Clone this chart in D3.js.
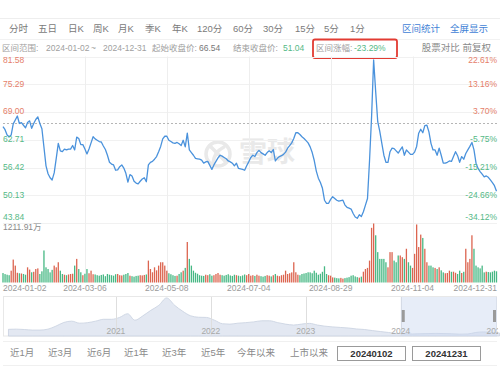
<!DOCTYPE html>
<html><head><meta charset="utf-8">
<script src="https://cdn.jsdelivr.net/npm/d3@7"></script>
<style>
html,body{margin:0;padding:0;background:#fff;}
svg{display:block;font-family:"Liberation Sans","Noto Sans CJK SC",sans-serif;}
</style></head><body>
<svg id="c" width="500" height="375"></svg>
<script>
// ---------------- DATA ----------------
const tabs = ["分时","五日","日K","周K","月K","季K","年K","120分","60分","30分","15分","5分","1分"];
const tabLinks = ["区间统计","全屏显示"];
const startDate = "2024-01-02", endDate = "2024-12-31";
const startClose = 66.54, endClose = 51.04, changePct = "-23.29%";
const rightTools = ["股票对比","前复权"];
const holidays = ["2024-01-01","2024-02-09","2024-02-12","2024-02-13","2024-02-14","2024-02-15","2024-02-16",
  "2024-04-04","2024-04-05","2024-05-01","2024-05-02","2024-05-03","2024-06-10","2024-09-16","2024-09-17",
  "2024-10-01","2024-10-02","2024-10-03","2024-10-04","2024-10-07"];
const closes = [
 65.7,65.0,63.8,63.4,63.8,66.3,67.2,68.1,66.4,66.6,
 66.0,65.4,66.6,67.0,65.3,66.4,67.3,67.9,66.4,65.2,
 61.0,56.8,55.0,54.1,53.6,55.2,58.5,61.9,60.2,60.0,
 60.6,60.4,60.6,60.6,61.4,60.4,63.3,63.0,61.6,61.6,
 60.6,59.5,60.6,62.0,63.4,62.9,62.6,62.3,62.2,61.3,
 60.5,59.2,57.6,57.2,57.0,55.8,55.9,56.6,57.0,56.3,
 55.1,53.1,54.8,54.5,53.3,52.9,52.7,53.3,53.8,54.1,
 53.2,57.0,57.6,57.8,58.3,58.9,60.0,61.2,62.9,63.5,
 63.5,62.6,62.3,62.0,61.9,62.1,61.8,61.4,62.6,61.1,
 64.2,60.4,59.8,59.2,58.5,58.4,58.3,58.1,57.4,57.7,
 57.8,56.9,56.0,57.0,57.8,58.6,59.2,59.0,58.7,58.4,
 57.9,57.7,57.4,56.8,57.4,56.2,56.1,56.0,55.8,56.8,
 57.7,58.7,59.2,58.9,59.8,60.3,59.8,59.5,59.2,59.8,
 60.2,59.8,60.5,57.9,58.5,58.9,59.1,59.4,59.9,60.8,
 61.4,62.0,63.0,64.3,64.3,63.9,63.4,63.0,62.5,62.0,
 61.1,59.8,58.0,55.6,54.0,53.0,51.7,49.0,48.3,48.3,
 49.2,49.8,49.4,49.0,48.8,48.9,49.0,47.9,47.4,47.2,
 47.0,46.0,45.2,44.9,45.7,45.3,46.4,47.9,49.4,58.0,
 68.0,80.8,73.6,66.8,64.6,61.9,59.2,57.6,57.6,60.0,
 60.8,60.7,60.2,59.7,60.4,61.1,59.2,60.4,59.9,59.4,
 59.4,59.9,61.2,64.2,65.1,64.3,65.9,66.0,64.5,61.9,
 60.4,60.4,59.2,60.8,59.2,57.4,57.4,57.6,57.9,57.8,
 58.9,60.0,59.1,57.6,58.9,58.3,59.6,60.4,61.2,62.1,
 60.4,57.4,56.2,55.5,54.9,54.3,54.5,54.2,53.6,53.0,
 52.3,51.04
];
const volumes = [ // 万股
 194,173,160,150,243,471,347,200,190,185,
 175,160,312,265,210,220,277,290,175,230,
 658,312,277,208,260,347,312,416,243,175,
 160,150,165,175,180,347,485,277,210,150,
 180,277,190,243,170,165,150,140,155,165,
 130,175,160,150,140,170,175,150,145,160,
 175,195,140,130,120,135,140,150,145,155,
 165,450,277,210,312,250,347,416,416,347,
 243,190,170,150,135,140,175,210,243,300,
 832,485,347,243,200,180,150,140,135,160,
 150,170,140,150,175,195,160,150,140,155,
 170,145,135,160,150,140,130,145,165,150,
 175,140,150,135,160,140,130,120,135,150,
 140,125,150,175,140,130,150,160,243,175,
 190,208,416,210,160,150,175,185,195,210,
 208,190,243,200,160,180,220,333,175,150,
 140,105,100,90,85,95,80,90,100,110,
 140,150,125,110,100,120,222,277,300,450,
 1123,1211.91,970,624,485,485,485,416,312,624,
 624,450,416,555,555,520,485,693,416,347,
 300,589,1192,728,984,915,693,416,347,347,
 312,300,277,312,250,208,190,195,243,220,
 222,200,175,243,195,220,693,416,485,970,
 693,347,312,290,347,208,222,215,208,222,
 243,230
];
const priceTicks = [81.58,75.29,69.00,62.71,56.42,50.13,43.84];
const pctTicks = ["22.61%","13.16%","3.70%","-5.75%","-15.21%","-24.66%","-34.12%"];
const volMax = 1211.91, volMaxLabel = "1211.91万";
const dateTicks = ["2024-01-02","2024-03-06","2024-05-08","2024-07-04","2024-08-29","2024-11-04","2024-12-31"];
const navMonths = ["2019-11","2019-12","2020-01","2020-02","2020-03","2020-04","2020-05","2020-06","2020-07","2020-08","2020-09","2020-10","2020-11","2020-12",
 "2021-01","2021-02","2021-03","2021-04","2021-05","2021-06","2021-07","2021-08","2021-09","2021-10","2021-11","2021-12",
 "2022-01","2022-02","2022-03","2022-04","2022-05","2022-06","2022-07","2022-08","2022-09","2022-10","2022-11","2022-12",
 "2023-01","2023-02","2023-03","2023-04","2023-05","2023-06","2023-07","2023-08","2023-09","2023-10","2023-11","2023-12",
 "2024-01","2024-02","2024-03","2024-04","2024-05","2024-06","2024-07","2024-08","2024-09","2024-10","2024-11","2024-12","2025-01"];
const navValues = [76,77,75,72,72,77,93,113,120,109,112,120,130,130,
 140,160,125,149,178,205,245,205,173,149,141,140,
 125,106,104,109,112,116,122,122,112,104,99,104,
 108,99,93,89,86,83,78,75,69,64,59,54,
 53,51,52,53,54,53,52,50,51,59,62,59,56];
const navYears = ["2021","2022","2023","2024","2025"];
const quickRanges = ["近1月","近3月","近6月","近1年","近3年","近5年","今年以来","上市以来"];
const rangeInputs = ["20240102","20241231"];

// ---------------- LAYOUT / STYLE ----------------
const RED = "#e5806a", GREEN = "#55b987", BLUE = "#4a92dc";
const BAR_RED = "#dc6550", BAR_GREEN = "#47b884";
const tabX = [9,38,68,93,118,145,172,197,233,263,295,324,350];
const linkX = [402,450];
const quickX = [10,48,87,124,162,201,237,290];

const svg = d3.select("#c");
const fmt = d3.utcFormat("%Y-%m-%d");
const days = d3.utcDays(new Date(Date.UTC(2024,0,1)), new Date(Date.UTC(2025,0,1)))
  .filter(d => d.getUTCDay() !== 0 && d.getUTCDay() !== 6 && !holidays.includes(fmt(d)))
  .map(fmt);
const series = days.map((d,i) => ({date:d, close:closes[i], vol:volumes[i],
  up: closes[i] >= (i ? closes[i-1] : startClose)}));

// top toolbar
svg.append("line").attr("x1",0).attr("x2",500).attr("y1",18.5).attr("y2",18.5).attr("stroke","#eeeeee");
svg.append("line").attr("x1",0).attr("x2",500).attr("y1",39.5).attr("y2",39.5).attr("stroke","#f2f2f2");
svg.selectAll("text.tab").data(tabs).join("text").attr("class","tab")
  .attr("x",(d,i)=>tabX[i]).attr("y",29).attr("dominant-baseline","middle")
  .attr("font-size",9.5).attr("fill","#7a7a7a").text(d=>d);
svg.selectAll("text.link").data(tabLinks).join("text").attr("class","link")
  .attr("x",(d,i)=>linkX[i]).attr("y",29).attr("dominant-baseline","middle")
  .attr("font-size",9.5).attr("fill","#3f82d6").text(d=>d);

// info row
const info = [
  {t:"区间范围:", x:2, c:"#a0a0a0"},
  {t:startDate, x:46, c:"#a0a0a0"},
  {t:"~", x:91, c:"#a0a0a0"},
  {t:endDate, x:103, c:"#a0a0a0"},
  {t:"起始收盘价:", x:152, c:"#a0a0a0"},
  {t:startClose.toFixed(2), x:199, c:"#777"},
  {t:"结束收盘价:", x:233, c:"#a0a0a0"},
  {t:endClose.toFixed(2), x:283, c:GREEN},
  {t:"区间涨幅:", x:316, c:"#a0a0a0"},
  {t:changePct, x:354, c:GREEN}
];
svg.selectAll("text.info").data(info).join("text").attr("class","info")
  .attr("x",d=>d.x).attr("y",48.5).attr("dominant-baseline","middle")
  .attr("font-size",8.5).attr("fill",d=>d.c).text(d=>d.t);
svg.append("rect").attr("x",313).attr("y",39.5).attr("width",84).attr("height",18.5)
  .attr("rx",2).attr("fill","none").attr("stroke","#e23b32").attr("stroke-width",1.8);
svg.append("text").attr("x",491).attr("y",48.5).attr("text-anchor","end").attr("dominant-baseline","middle")
  .attr("font-size",9.5).attr("fill","#8a8a8a").text(rightTools.join(" "));

// scales
const x = d3.scalePoint().domain(days).range([3, 496.5]);
const y = d3.scaleLinear().domain([priceTicks[priceTicks.length-1], priceTicks[0]]).range([223, 56.5]);
const yv = d3.scaleLinear().domain([0, volMax]).range([282.5, 223.5]);

// watermark
const wm = svg.append("g");
wm.append("circle").attr("cx",218).attr("cy",154).attr("r",12).attr("fill","none")
  .attr("stroke","#e9e9e9").attr("stroke-width",3.5);
wm.append("path").attr("d","M210,146 L226,162 M224,147 Q214,152 213,163").attr("fill","none")
  .attr("stroke","#e9e9e9").attr("stroke-width",3.5).attr("stroke-linecap","round");
wm.append("text").attr("x",239).attr("y",154).attr("dominant-baseline","middle")
  .attr("font-family","Noto Sans CJK SC").attr("font-weight","bold")
  .attr("font-size",28).attr("fill","#e9e9e9").text("雪球");

// gridlines
svg.selectAll("line.hg").data(priceTicks).join("line").attr("class","hg")
  .attr("x1",3).attr("x2",497).attr("y1",d=>Math.round(y(d))+0.5).attr("y2",d=>Math.round(y(d))+0.5)
  .attr("stroke","#f1f1f1");
svg.selectAll("line.vg").data(dateTicks.slice(1,-1)).join("line").attr("class","vg")
  .attr("x1",d=>Math.round(x(d))+0.5).attr("x2",d=>Math.round(x(d))+0.5)
  .attr("y1",56.5).attr("y2",283).attr("stroke","#eeeeee");
svg.append("line").attr("x1",3).attr("x2",497).attr("y1",Math.round(y(startClose))+0.5).attr("y2",Math.round(y(startClose))+0.5)
  .attr("stroke","#b5b5b5").attr("stroke-dasharray","2,2");

// volume bars
svg.selectAll("rect.vol").data(series).join("rect").attr("class","vol")
  .attr("x",d=>x(d.date)-0.65).attr("width",1.3)
  .attr("y",d=>yv(d.vol)).attr("height",d=>yv(0)-yv(d.vol))
  .attr("fill",d=>d.up?BAR_RED:BAR_GREEN);

// price line
svg.append("path").datum(series)
  .attr("d", d3.line().x(d=>x(d.date)).y(d=>y(d.close)))
  .attr("fill","none").attr("stroke",BLUE).attr("stroke-width",1.3).attr("stroke-linejoin","round");

// y labels
const ly = v => Math.min(Math.max(y(v), 61), 218);
svg.selectAll("text.yl").data(priceTicks).join("text").attr("class","yl")
  .attr("x",3).attr("y",d=>ly(d)).attr("dominant-baseline","middle")
  .attr("font-size",8.5).attr("fill",d=>d>startClose?RED:GREEN).text(d=>d.toFixed(2));
svg.selectAll("text.yr").data(pctTicks).join("text").attr("class","yr")
  .attr("x",497).attr("y",(d,i)=>ly(priceTicks[i])).attr("text-anchor","end").attr("dominant-baseline","middle")
  .attr("font-size",8.5).attr("fill",d=>d.startsWith("-")?GREEN:RED).text(d=>d);
svg.append("text").attr("x",3).attr("y",228).attr("dominant-baseline","middle")
  .attr("font-size",8.5).attr("fill","#8a8a8a").text(volMaxLabel);

// date labels
svg.selectAll("text.xl").data(dateTicks).join("text").attr("class","xl")
  .attr("x",(d,i)=> i===0 ? 3 : i===dateTicks.length-1 ? 497 : x(d))
  .attr("text-anchor",(d,i)=> i===0 ? "start" : i===dateTicks.length-1 ? "end" : "middle")
  .attr("y",288.5).attr("dominant-baseline","middle")
  .attr("font-size",8.5).attr("fill","#9a9a9a").text(d=>d);

// navigator
const nav = svg.append("g");
nav.append("clipPath").attr("id","navclip").append("rect").attr("x",0).attr("y",290).attr("width",498).attr("height",50);
const pm = d3.utcParse("%Y-%m");
const navData = navMonths.map((m,i)=>({d:d3.utcDay.offset(pm(m),14), v:navValues[i]}));
const xn = d3.scaleUtc().domain([new Date(Date.UTC(2019,9,25)), new Date(Date.UTC(2025,0,5))]).range([3,497]);
const yn = d3.scaleLinear().domain([40,250]).range([336,297]);
nav.append("rect").attr("x",3.5).attr("y",296.5).attr("width",493).attr("height",39.5)
  .attr("fill","#fff").attr("stroke","#e8e8e8");
nav.append("path").datum(navData)
  .attr("d", d3.area().x(d=>xn(d.d)).y0(336).y1(d=>yn(d.v)).curve(d3.curveMonotoneX))
  .attr("fill","#e3e8f2").attr("stroke","#c8d0e0").attr("stroke-width",0.8);
const yearDates = navYears.map(yr => new Date(Date.UTC(+yr,0,1)));
nav.selectAll("line.yg").data(yearDates.slice(0,-1)).join("line").attr("class","yg")
  .attr("x1",d=>Math.round(xn(d))+0.5).attr("x2",d=>Math.round(xn(d))+0.5)
  .attr("y1",297).attr("y2",336).attr("stroke","#dedede");
const selX0 = xn(new Date(Date.UTC(2024,0,1)));
nav.append("rect").attr("x",selX0).attr("y",297).attr("width",497-selX0).attr("height",39)
  .attr("fill","#c9d8f0").attr("opacity",0.45);
nav.selectAll("rect.h").data([selX0+1, 493]).join("rect").attr("class","h")
  .attr("x",d=>d).attr("y",310).attr("width",3).attr("height",12).attr("fill","#9a9a9a");
nav.selectAll("text.yrl").data(navYears).join("text").attr("class","yrl")
  .attr("clip-path","url(#navclip)")
  .attr("x",(d,i)=>xn(yearDates[i])).attr("y",331.5).attr("text-anchor","middle").attr("dominant-baseline","middle")
  .attr("font-size",8.5).attr("fill","#a8a8a8").text(d=>d);

// bottom controls
svg.append("line").attr("x1",3).attr("x2",497).attr("y1",341.5).attr("y2",341.5).attr("stroke","#f0f0f0");
svg.append("line").attr("x1",3).attr("x2",497).attr("y1",365.5).attr("y2",365.5).attr("stroke","#f0f0f0");
svg.selectAll("text.q").data(quickRanges).join("text").attr("class","q")
  .attr("x",(d,i)=>quickX[i]).attr("y",353.5).attr("dominant-baseline","middle")
  .attr("font-size",9.5).attr("fill","#8a8a8a").text(d=>d);
const boxes = svg.selectAll("g.box").data(rangeInputs).join("g").attr("class","box")
  .attr("transform",(d,i)=>`translate(${337.5+i*75},346.5)`);
boxes.append("rect").attr("width",68).attr("height",14).attr("fill","#fff").attr("stroke","#9a9a9a");
boxes.append("text").attr("x",34).attr("y",7.5).attr("text-anchor","middle").attr("dominant-baseline","middle")
  .attr("font-size",9.5).attr("font-weight","bold").attr("fill","#333").text(d=>d);
</script></body></html>
